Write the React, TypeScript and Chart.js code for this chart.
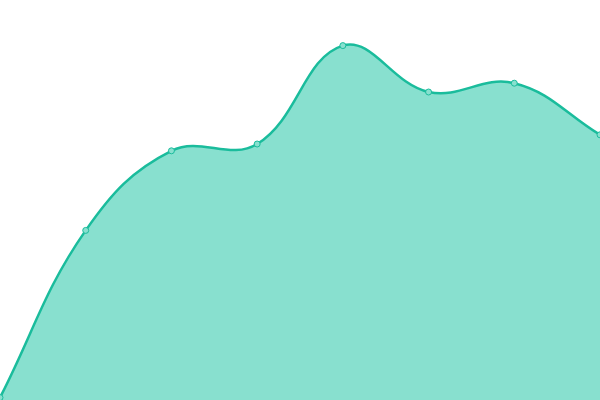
import { useEffect, useRef } from "react";
import { Chart, registerables } from "chart.js";

Chart.register(...registerables);

// Eight evenly spaced points (0-100 scale)
const labels = ["1", "2", "3", "4", "5", "6", "7", "8"];
const values = [0.6, 42.4, 62.3, 64.0, 88.6, 77.0, 79.2, 66.3];

const lineColor = "#1ABC9C";
const fillColor = "#88E0CF";

function AreaChart() {
  const canvasRef = useRef<HTMLCanvasElement | null>(null);
  const chartRef = useRef<Chart | null>(null);

  useEffect(() => {
    if (!canvasRef.current) return;
    if (chartRef.current) chartRef.current.destroy();

    chartRef.current = new Chart(canvasRef.current, {
      type: "line",
      data: {
        labels: labels,
        datasets: [
          {
            data: values,
            borderColor: lineColor,
            backgroundColor: fillColor,
            borderWidth: 2.5,
            fill: true,
            tension: 0.4,
            pointRadius: 3,
            pointBorderWidth: 1,
            pointBackgroundColor: fillColor,
            pointBorderColor: lineColor,
          },
        ],
      },
      options: {
        animation: false,
        responsive: true,
        maintainAspectRatio: false,
        layout: { padding: 0, autoPadding: false },
        plugins: {
          legend: { display: false },
          tooltip: { enabled: false },
        },
        scales: {
          x: { display: false, offset: false },
          y: { display: false, min: 0, max: 100 },
        },
      },
    });

    return () => {
      if (chartRef.current) {
        chartRef.current.destroy();
        chartRef.current = null;
      }
    };
  }, []);

  return <canvas ref={canvasRef}></canvas>;
}

export default function App() {
  return (
    <div style={{ position: "fixed", left: 0, top: 0, width: 600, height: 400, background: "#fff" }}>
      <AreaChart />
    </div>
  );
}
